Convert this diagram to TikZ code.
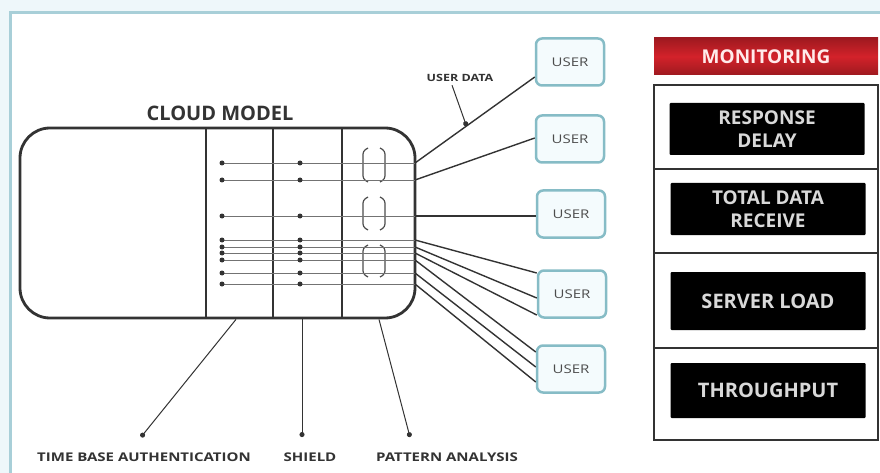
\documentclass[tikz,border=0pt]{standalone}
\usepackage{fontspec}
\setmainfont{Open Sans}
\newfontfamily\widefont[FakeStretch=1.25]{Open Sans}
\usetikzlibrary{positioning,arrows.meta,calc}
\definecolor{framecol}{HTML}{A8CFD8}
\definecolor{pagebg}{HTML}{EEF7FA}
\definecolor{userfill}{HTML}{F4FBFD}
\definecolor{userline}{HTML}{86BCC6}
\definecolor{inkgray}{HTML}{333333}
\definecolor{monred}{HTML}{D3222A}

\begin{document}
\begin{tikzpicture}[x=1pt, y=-1pt,
    userbox/.style={draw=userline, line width=2.5pt, rounded corners=6pt, fill=userfill, minimum width=68pt, minimum height=47pt, font=\widefont\fontsize{12}{13}\selectfont, text=black!70},
    metricbox/.style={fill=black, rounded corners=1pt, minimum width=195pt, text=white!85!black, align=center},
    caption/.style={font=\widefont\bfseries\fontsize{12}{14}\selectfont, text=black!80},
    wire/.style={draw=inkgray, line width=1.4pt},
    rowline/.style={draw=black!55, line width=0.9pt},
    pointer/.style={draw=inkgray, line width=1pt, -{Circle[length=5pt]}}]

    % page and frame
    \clip (0,0) rectangle (880,473);
    \fill[pagebg] (0,0) rectangle (880,473);
    \filldraw[fill=white, draw=framecol, line width=3pt] (10,13) rectangle (900,490);

    % cloud model
    \node[draw=inkgray, line width=2.8pt, rounded corners=30pt, minimum width=395pt, minimum height=190pt] (cloud) at (217.5,223) {};
    \node[font=\bfseries\fontsize{20}{21}\selectfont, text=inkgray] (cloudtitle) at (220,113) {CLOUD MODEL};
    \foreach \cx in {206,273,342}
        \draw[inkgray, line width=1.3pt] (\cx,128) -- (\cx,318);

    % pattern brackets
    \foreach \ty/\by in {148/182,197/230,245/277} {
        \draw[black!70, line width=1.2pt, rounded corners=3pt] (368,\ty) -- (363,\ty+3) -- (363,\by-3) -- (368,\by);
        \draw[black!70, line width=1.2pt, rounded corners=3pt] (380,\ty) -- (385,\ty+3) -- (385,\by-3) -- (380,\by);
    }

    % users
    \node[userbox] (u1) at (570,62) {USER};
    \node[userbox] (u2) at (570,139) {USER};
    \node[userbox] (u3) at (571,214) {USER};
    \node[userbox] (u4) at (572,294) {USER};
    \node[userbox] (u5) at (571,369) {USER};

    % data rows
    \foreach \ry/\u/\off in {163/u1/15,180/u2/-1,216/u3/2,240/u4/-21,247/u4/4,253/u4/21,260/u5/-17,273/u5/-2,284/u5/13} {
        \draw[rowline] (222,\ry) -- (415,\ry);
        \fill[inkgray] (222,\ry) circle (2.5pt);
        \fill[inkgray] (300,\ry) circle (2.5pt);
        \draw[wire] (415,\ry) -- ($(\u.west)+(0,\off)$);
    }

    \node[caption, font=\widefont\bfseries\fontsize{10}{12}\selectfont] (userdata) at (460,78) {USER DATA};
    \path (415,163) -- ($(u1.west)+(0,15)$) coordinate[pos=0.43] (udtip);
    \draw[pointer] ([xshift=-8pt]userdata.south) -- (udtip);

    % layer labels
    \node[caption] (tba) at (144,457) {TIME BASE AUTHENTICATION};
    \node[caption] (shield) at (310,457) {SHIELD};
    \node[caption] (pattern) at (447,457) {PATTERN ANALYSIS};
    \draw[pointer] ([xshift=18.5pt]cloud.south) -- ([xshift=-3pt,yshift=12pt]tba.north);
    \draw[pointer] ([xshift=84.5pt]cloud.south) -- ([xshift=-8pt,yshift=12pt]shield.north);
    \draw[pointer] ([xshift=161.5pt]cloud.south) -- ([xshift=-37pt,yshift=12pt]pattern.north);

    % monitoring panel
    \node[top color=monred!75!black, bottom color=monred!75!black, middle color=monred, minimum width=224pt, minimum height=37pt, text=red!8!white, font=\bfseries\fontsize{19}{20}\selectfont] (monitor) at (766,56.5) {MONITORING};
    \node[draw=inkgray, line width=2.5pt, minimum width=224pt, minimum height=355pt] (panel) at (766,262.5) {};
    \foreach \dy in {169,253,348}
        \draw[inkgray, line width=2pt] (654,\dy) -- (878,\dy);

    \node[metricbox, minimum height=52pt, font=\bfseries\fontsize{19}{23}\selectfont] (delay) at (767,129) {RESPONSE\\DELAY};
    \node[metricbox, minimum height=52pt, font=\bfseries\fontsize{19}{23}\selectfont] (received) at (768,209) {TOTAL DATA\\RECEIVE};
    \node[metricbox, minimum height=58pt, font=\bfseries\fontsize{20}{21}\selectfont] (load) at (768,301) {SERVER LOAD};
    \node[metricbox, minimum height=55pt, font=\bfseries\fontsize{20}{21}\selectfont] (throughput) at (768,390.5) {THROUGHPUT};
\end{tikzpicture}
\end{document}
